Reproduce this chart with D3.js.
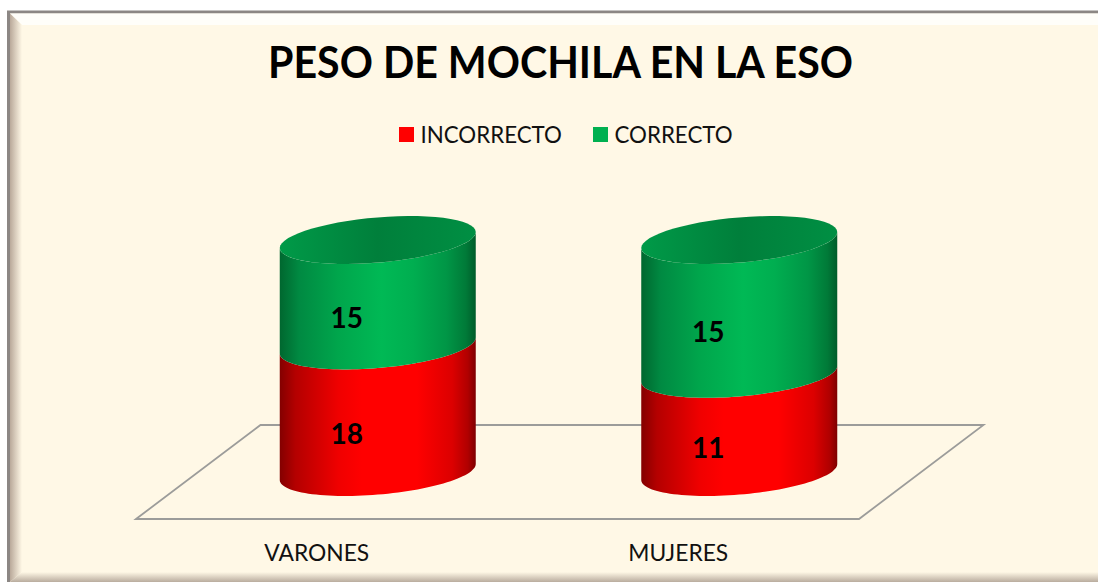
<!DOCTYPE html>
<html><head><meta charset="utf-8">
<script src="https://cdnjs.cloudflare.com/ajax/libs/d3/7.8.5/d3.min.js"></script>
<style>html,body{margin:0;padding:0;background:#fff}svg{display:block}text{font-family:Lato,"Open Sans",sans-serif}</style>
</head><body><svg id="c" width="1098" height="582"></svg>
<script>
const title = "PESO DE MOCHILA EN LA ESO";
const categories = ["VARONES", "MUJERES"];
const seriesNames = ["INCORRECTO", "CORRECTO"];
const incorrecto = [18, 11];
const correcto = [15, 15];
const seriesValues = [incorrecto, correcto];
const seriesColors = ["#ff0000", "#00b050"];

const svg = d3.select("#c");
const W = 1098, H = 582;
const defs = svg.append("defs");

function grad(id, stops, vertical) {
  const g = defs.append("linearGradient").attr("id", id).attr("x1", 0).attr("y1", 0)
    .attr("x2", vertical ? 0 : 1).attr("y2", vertical ? 1 : 0);
  stops.forEach(s => g.append("stop").attr("offset", s[0]).attr("stop-color", s[1]));
}
grad("g0", [[0,"#830000"],[0.08,"#b40000"],[0.3,"#f00000"],[0.42,"#ff0000"],[0.7,"#ff0000"],[0.88,"#dc0000"],[0.96,"#b00000"],[1,"#7e0000"]]);
grad("g1", [[0,"#00672f"],[0.1,"#008a42"],[0.3,"#00a64c"],[0.52,"#00b955"],[0.68,"#00ae50"],[0.85,"#009646"],[0.95,"#007a38"],[1,"#005c2a"]]);
grad("cap", [[0,"#009a48"],[0.5,"#007f3b"],[1,"#008f43"]]);
grad("bevL", [[0,"#b9a99a"],[1,"#fff8e6"]]);
grad("bevB", [[0,"#fff8e6"],[1,"#b9ac9e"]], true);

// frame and bevel
svg.append("rect").attr("x",8.5).attr("y",12).attr("width",W).attr("height",H).attr("fill","#fff8e6").attr("stroke","#8c8784").attr("stroke-width",3);
svg.append("path").attr("d","M10,13.5H1098V25H22Z").attr("fill","#fffef9");
svg.append("path").attr("d","M10,13.5L22,25V572L10,582Z").attr("fill","url(#bevL)");
svg.append("path").attr("d","M10,582L22,572H1098V582Z").attr("fill","url(#bevB)");

// title and legend
svg.append("text").attr("x",560.5).attr("y",78).attr("text-anchor","middle").attr("font-size",44).attr("font-weight",700)
  .attr("textLength",585).attr("lengthAdjust","spacingAndGlyphs").attr("fill","#000").text(title);
const legendKeys = d3.scaleOrdinal().domain(seriesNames).range([399, 593]);
const lg = svg.selectAll("g.leg").data(seriesNames).join("g").attr("class","leg").attr("transform",d=>`translate(${legendKeys(d)},127)`);
lg.append("rect").attr("width",15).attr("height",15).attr("fill",(d,i)=>seriesColors[i]);
lg.append("text").attr("x",21.5).attr("y",15.5).attr("font-size",22.3).attr("fill","#111").text(d=>d);

// scales
const x = d3.scaleBand().domain(categories).range([136, 859]);
const depthX = 61, rx = 98, ry = 22.6, tilt = 8;
const y = d3.scaleLinear().domain([0, 1]).range([472, 240]);

// floor
const floorBack = 425, floorFront = 519, floorDx = 124.5;
svg.append("path").attr("d",`M${x.range()[0]},${floorFront}L${x.range()[0]+floorDx},${floorBack}H${x.range()[1]+floorDx}L${x.range()[1]},${floorFront}Z`)
  .attr("fill","none").attr("stroke","#9c9c9a").attr("stroke-width",1.8);

// category labels
svg.selectAll("text.cat").data(categories).join("text").attr("class","cat")
  .attr("x",d=>x(d)+x.bandwidth()/2).attr("y",561).attr("text-anchor","middle").attr("font-size",22.8).attr("fill","#111").text(d=>d);

const line = d3.line();
function arc(cx, cy, from, to) {
  const n = 60, pts = [];
  for (let i = 0; i <= n; i++) {
    const t = from + (to - from) * i / n;
    pts.push([cx + rx * Math.cos(t), cy + ry * Math.sin(t) - tilt * Math.cos(t)]);
  }
  return pts;
}
const labelDx = -31, labelDy = 35;
categories.forEach((cat, ci) => {
  const cx = x(cat) + x.bandwidth()/2 + depthX;
  const total = d3.sum(seriesValues, s => s[ci]);
  let cum = 0;
  seriesValues.forEach((s, si) => {
    const y0 = y(cum / total), y1 = y((cum + s[ci]) / total);
    const outline = arc(cx, y1, Math.PI, 0).concat(arc(cx, y0, 0, Math.PI));
    svg.append("path").attr("d", line(outline) + "Z").attr("fill",`url(#g${si})`);
    svg.append("text").attr("x", cx + labelDx).attr("y", (y0 + y1) / 2 + labelDy).attr("text-anchor","middle")
      .attr("font-size",28).attr("font-weight",700).attr("fill","#000").text(s[ci]);
    cum += s[ci];
  });
  svg.append("path").attr("d", line(arc(cx, y(1), 0, 2*Math.PI)) + "Z").attr("fill","url(#cap)");
});
</script></body></html>
